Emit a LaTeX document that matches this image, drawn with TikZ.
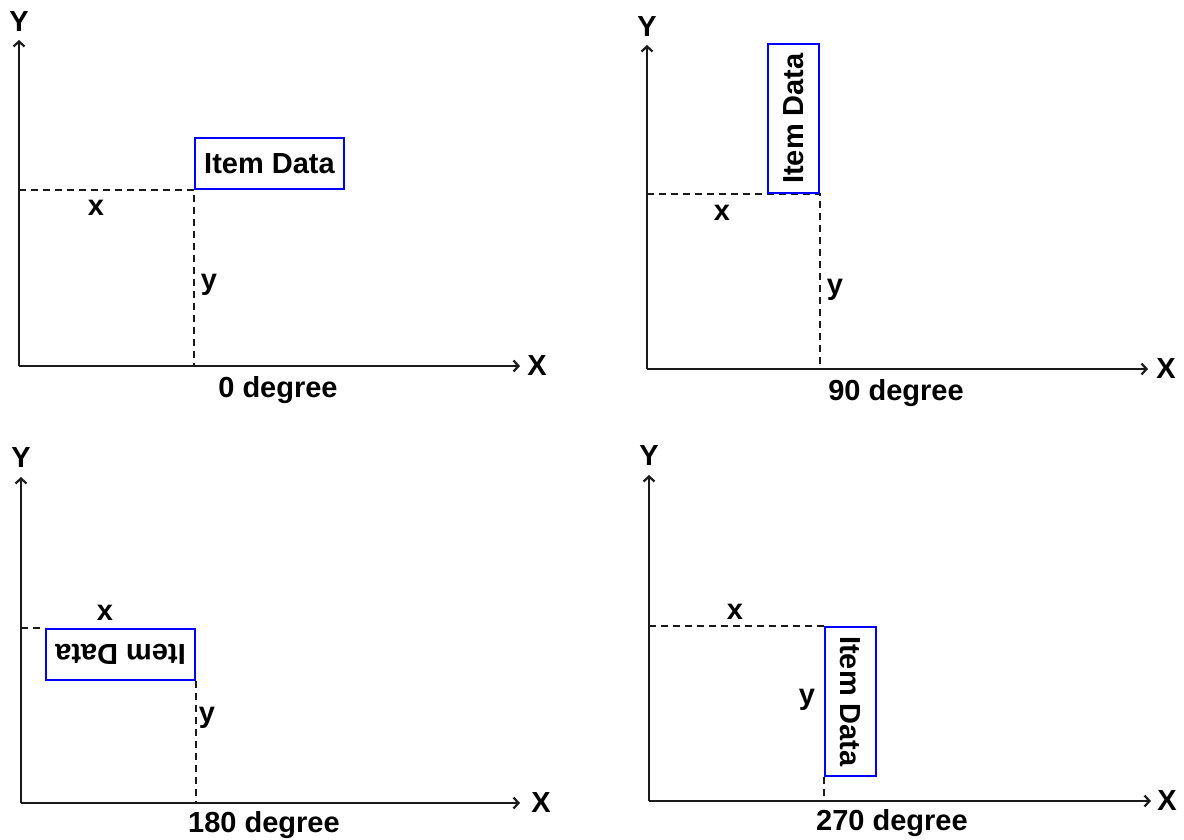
\documentclass[tikz,border=0pt]{standalone}
\usepackage{fontspec}
\setmainfont{Liberation Sans}
\usetikzlibrary{positioning,arrows.meta}
\definecolor{cBox}{HTML}{0000FF}
\definecolor{cAxis}{HTML}{1A1A1A}
\tikzset{
  axis/.style={-{Straight Barb[length=5pt,width=11pt,line width=2.2pt]}, line width=2pt, cAxis},
  guide/.style={dash pattern=on 7pt off 5pt, line width=2pt, cAxis},
  itembox/.style={draw=cBox, line width=2pt, minimum width=149pt, minimum height=51pt,
                  inner sep=0pt, font=\bfseries\fontsize{29}{31}\selectfont},
  lbl/.style={font=\bfseries\fontsize{29}{31}\selectfont, inner sep=0pt},
}

\begin{document}
\begin{tikzpicture}[x=1pt,y=-1pt]
  \useasboundingbox (0,0) rectangle (1184,840);

  % 0 degree
  \coordinate (o1) at (19,366);
  \coordinate (p1) at (194,190);
  \coordinate (ty1) at (19,40);
  \coordinate (tx1) at (520,366);
  \node[lbl] (Y1) at (19,22) {Y};
  \node[lbl] (X1) at (537,366) {X};
  \draw[axis] (o1) -- (ty1);
  \draw[axis] (o1) -- (tx1);
  \draw[guide] (o1 |- p1) -- (p1) -- (p1 |- o1);
  \node[itembox, anchor=south west] (d1) at (p1) {Item Data};
  \node[lbl] (x1) at (96,208) {x};
  \node[lbl] (y1) at (209,285) {y};
  \node[lbl] (deg1) at (278,390) {0 degree};

  % 90 degree
  \coordinate (o2) at (647,369);
  \coordinate (p2) at (820,194);
  \coordinate (ty2) at (647,45);
  \coordinate (tx2) at (1148,369);
  \node[lbl] (Y2) at (647,27) {Y};
  \node[lbl] (X2) at (1166,369) {X};
  \draw[axis] (o2) -- (ty2);
  \draw[axis] (o2) -- (tx2);
  \draw[guide] (o2 |- p2) -- (p2) -- (p2 |- o2);
  \node[itembox, rotate=90, anchor=south west] (d2) at (p2) {Item Data};
  \node[lbl] (x2) at (722,213) {x};
  \node[lbl] (y2) at (835,290) {y};
  \node[lbl] (deg2) at (896,393) {90 degree};

  % 180 degree
  \coordinate (o3) at (21,803);
  \coordinate (p3) at (196,628);
  \coordinate (ty3) at (21,477);
  \coordinate (tx3) at (520,803);
  \node[lbl] (Y3) at (21,458) {Y};
  \node[lbl] (X3) at (541,803) {X};
  \draw[axis] (o3) -- (ty3);
  \draw[axis] (o3) -- (tx3);
  \node[itembox, rotate=180, anchor=south west] (d3) at (p3) {Item Data};
  \draw[guide] (o3 |- p3) -- (d3.south east);
  \draw[guide] (d3.north west) -- (d3.north west |- o3);
  \node[lbl] (x3) at (105,613) {x};
  \node[lbl] (y3) at (207,718) {y};
  \node[lbl] (deg3) at (264,825) {180 degree};

  % 270 degree
  \coordinate (o4) at (649,801);
  \coordinate (p4) at (824,626);
  \coordinate (ty4) at (649,475);
  \coordinate (tx4) at (1151,801);
  \node[lbl] (Y4) at (649,456) {Y};
  \node[lbl] (X4) at (1167,801) {X};
  \draw[axis] (o4) -- (ty4);
  \draw[axis] (o4) -- (tx4);
  \node[itembox, rotate=-90, anchor=south west] (d4) at (p4) {Item Data};
  \draw[guide] (o4 |- p4) -- (d4.south west);
  \draw[guide] (d4.south east) -- (d4.south east |- o4);
  \node[lbl] (x4) at (735,612) {x};
  \node[lbl] (y4) at (807,700) {y};
  \node[lbl] (deg4) at (892,823) {270 degree};
\end{tikzpicture}
\end{document}
